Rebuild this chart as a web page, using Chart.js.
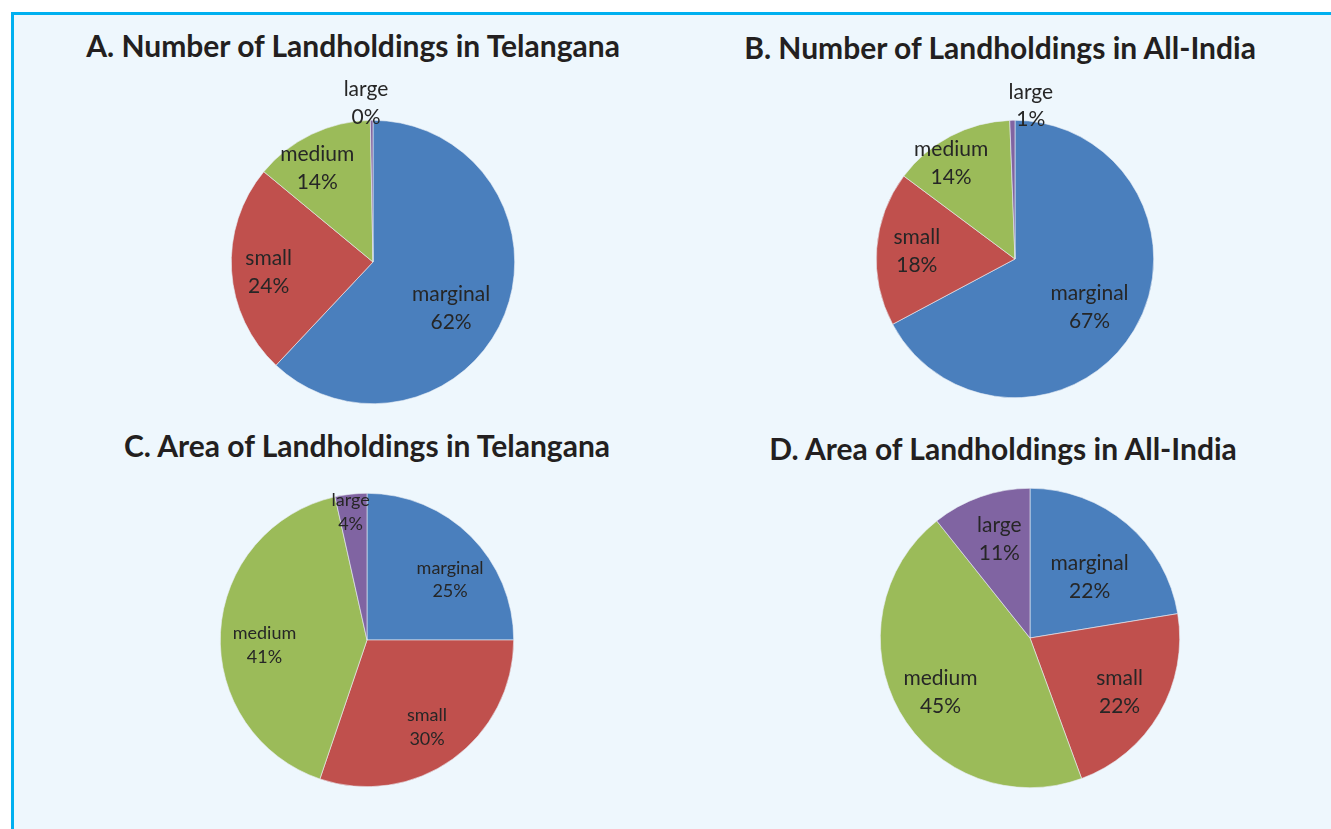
<!DOCTYPE html>
<html>
<head>
<meta charset="utf-8">
<script src="https://cdn.jsdelivr.net/npm/chart.js@4.4.1/dist/chart.umd.min.js"></script>
<style>
  html, body { margin: 0; padding: 0; background: #ffffff; }
  body { width: 1331px; height: 829px; position: relative; overflow: hidden; }
  #frame {
    position: absolute; left: 11px; top: 12px; width: 1340px; height: 840px;
    border-left: 3px solid #00b0f0; border-top: 3px solid #00b0f0;
    background: #eef7fd;
  }
  .title {
    position: absolute; font-family: Lato, "Open Sans", sans-serif; font-weight: bold;
    font-size: 30px; color: #231f20; white-space: nowrap; transform: translateX(-50%);
  }
  canvas { position: absolute; }
</style>
</head>
<body>
<div id="frame"></div>
<div class="title" style="left:353px; top:27px;">A. Number of Landholdings in Telangana</div>
<div class="title" style="left:1000px; top:29px;">B. Number of Landholdings in All-India</div>
<div class="title" style="left:367px; top:427px;">C. Area of Landholdings in Telangana</div>
<div class="title" style="left:1003px; top:430px;">D. Area of Landholdings in All-India</div>
<canvas id="pieA"></canvas>
<canvas id="pieB"></canvas>
<canvas id="pieC"></canvas>
<canvas id="pieD"></canvas>
<script>
// Données (parts en %)
const categories = ['marginal', 'small', 'medium', 'large'];
const numberTelangana = [62, 24, 13.7, 0.3];
const numberIndia = [67.2, 18.0, 14.2, 0.6];
const areaTelangana = [25, 30.2, 41.3, 3.5];
const areaIndia = [22.4, 22.0, 44.9, 10.7];

const sliceColors = ['#4a7fbd', '#c0504d', '#9bbb59', '#8064a2'];

// Plugin simple pour écrire "catégorie / xx%" dans chaque part
const sliceLabels = {
    id: 'sliceLabels',
    afterDatasetsDraw(chart, args, opts) {
        const ctx = chart.ctx;
        const meta = chart.getDatasetMeta(0);
        const values = chart.data.datasets[0].data;
        const total = values.reduce((a, b) => a + b, 0);
        ctx.save();
        ctx.fillStyle = '#262626';
        ctx.font = opts.fontSize + 'px Lato, "Open Sans", sans-serif';
        ctx.textAlign = 'center';
        ctx.textBaseline = 'middle';
        meta.data.forEach((arc, i) => {
            const p = arc.getProps(['x', 'y', 'startAngle', 'endAngle', 'outerRadius'], true);
            const mid = (p.startAngle + p.endAngle) / 2 + (opts.shift[i] || 0) * Math.PI / 180;
            const d = p.outerRadius * opts.dist[i];
            const x = p.x + Math.cos(mid) * d;
            const y = p.y + Math.sin(mid) * d;
            const pct = Math.round(values[i] / total * 100) + '%';
            ctx.fillText(chart.data.labels[i], x, y - opts.fontSize * 0.66);
            ctx.fillText(pct, x, y + opts.fontSize * 0.66);
        });
        ctx.restore();
    }
};

function makePie(id, values, cx, cy, r, labelOpts) {
    const pad = 70;
    const canvas = document.getElementById(id);
    const size = 2 * r + 2 * pad;
    canvas.style.left = (cx - r - pad) + 'px';
    canvas.style.top = (cy - r - pad) + 'px';
    canvas.style.width = size + 'px';
    canvas.style.height = size + 'px';
    canvas.width = size;
    canvas.height = size;
    new Chart(canvas.getContext('2d'), {
        type: 'pie',
        data: {
            labels: categories,
            datasets: [{
                data: values,
                backgroundColor: sliceColors,
                borderColor: '#e9eef5',
                borderWidth: 0.6
            }]
        },
        options: {
            responsive: false,
            animation: false,
            layout: { padding: pad },
            plugins: {
                legend: { display: false },
                tooltip: { enabled: false },
                sliceLabels: labelOpts
            }
        },
        plugins: [sliceLabels]
    });
}

makePie('pieA', numberTelangana, 373, 262, 142,
    { fontSize: 21, dist: [0.64, 0.74, 0.77, 1.12], shift: [9, -2, -5, -2] });
makePie('pieB', numberIndia, 1015, 259, 139,
    { fontSize: 21, dist: [0.64, 0.71, 0.83, 1.11], shift: [2, 0, -6, 7] });
makePie('pieC', areaTelangana, 367, 640, 147,
    { fontSize: 18, dist: [0.70, 0.72, 0.70, 0.88], shift: [9, 1, -6, -1] });
makePie('pieD', areaIndia, 1030, 638, 150,
    { fontSize: 21, dist: [0.57, 0.70, 0.70, 0.69], shift: [4, 1, -2, 2] });
</script>
</body>
</html>
